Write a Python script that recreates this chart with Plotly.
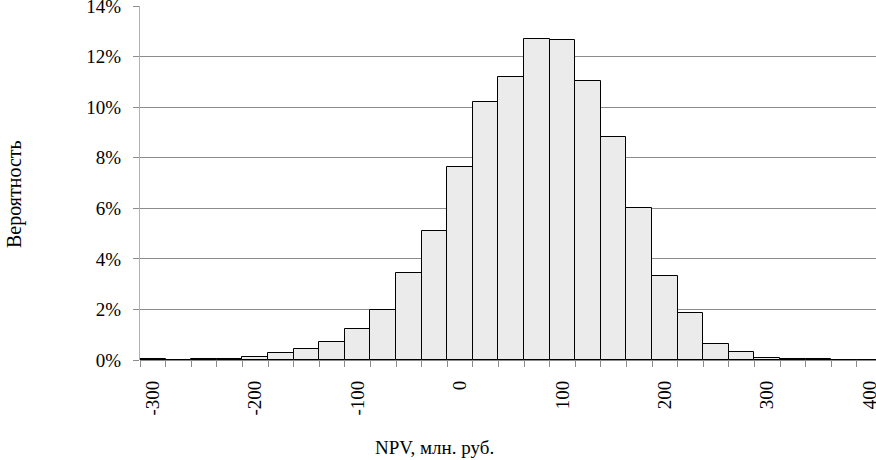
import plotly.graph_objects as go

# NPV bin centres (млн. руб.), bin width 25
npv_bins = [-300, -275, -250, -225, -200, -175, -150, -125, -100, -75, -50, -25,
            0, 25, 50, 75, 100, 125, 150, 175, 200, 225, 250, 275, 300, 325, 350, 375, 400]
# probability (fraction)
probability = [0.0005, 0.0, 0.0004, 0.0005, 0.0010, 0.0026, 0.0043, 0.0070, 0.0123, 0.0196,
               0.0344, 0.0510, 0.0763, 0.1019, 0.1121, 0.1268, 0.1264, 0.1102, 0.0881, 0.0600,
               0.0332, 0.0186, 0.0062, 0.0030, 0.0008, 0.0004, 0.0004, 0.0, 0.0]
x_tick_vals = [-300, -200, -100, 0, 100, 200, 300, 400]
x_tick_text = ["-300", "-200", "-100", "0", "100", "200", "300", "400"]
y_tick_vals = [0, 0.02, 0.04, 0.06, 0.08, 0.10, 0.12, 0.14]

FONT = "Liberation Serif"
W, H = 876, 460
L, T, B, R = 140, 6, 100, 0
pw, ph = W - L - R, H - T - B

fig = go.Figure()
fig.add_trace(go.Bar(
    x=npv_bins, y=probability, width=25,
    marker=dict(color="#ebebeb", line=dict(color="#000000", width=1)),
    showlegend=False,
))

fig.update_layout(
    width=W, height=H,
    margin=dict(l=L, r=R, t=T, b=B, autoexpand=False),
    paper_bgcolor="white", plot_bgcolor="white",
    font=dict(family=FONT, size=19, color="black"),
    bargap=0,
    xaxis=dict(
        range=[-312.5, -312.5 + pw / 25.6 * 25], automargin=False,
        tickmode="array", tickvals=x_tick_vals, ticktext=x_tick_text,
        tickangle=-90, ticks="", showgrid=False, zeroline=False,
        showline=False, ticklabelstandoff=16, ticklabeloverflow="allow",
        minor=dict(ticks="outside", ticklen=6, tickcolor="#8c8c8c", tickwidth=1,
                   tick0=-312.5, dtick=25, showgrid=False),
        tickfont=dict(family=FONT, size=19),
    ),
    yaxis=dict(
        range=[0, 0.14], automargin=False,
        tickmode="array", tickvals=y_tick_vals, tickformat=".0%",
        ticks="outside", ticklen=6, tickcolor="#8c8c8c",
        showgrid=True, gridcolor="#8c8c8c", gridwidth=1,
        zeroline=True, zerolinecolor="#8c8c8c", zerolinewidth=1,
        showline=True, linecolor="#b0b0b0", linewidth=1,
        ticklabelstandoff=8, ticklabeloverflow="allow",
        tickfont=dict(family=FONT, size=19),
    ),
    annotations=[
        dict(text="Вероятность", xref="paper", yref="paper",
             x=(14 - L) / pw, y=(H - B - 194) / ph, xanchor="center", yanchor="middle",
             textangle=-90, showarrow=False, font=dict(family=FONT, size=20)),
        dict(text="NPV, млн. руб.", xref="paper", yref="paper",
             x=(434 - L) / pw, y=(H - B - 447) / ph, xanchor="center", yanchor="middle",
             showarrow=False, font=dict(family=FONT, size=19)),
    ],
)

fig.write_html("out.html", config={"displayModeBar": False},
               post_script="document.body.style.margin='0';document.body.style.overflow='hidden';")
